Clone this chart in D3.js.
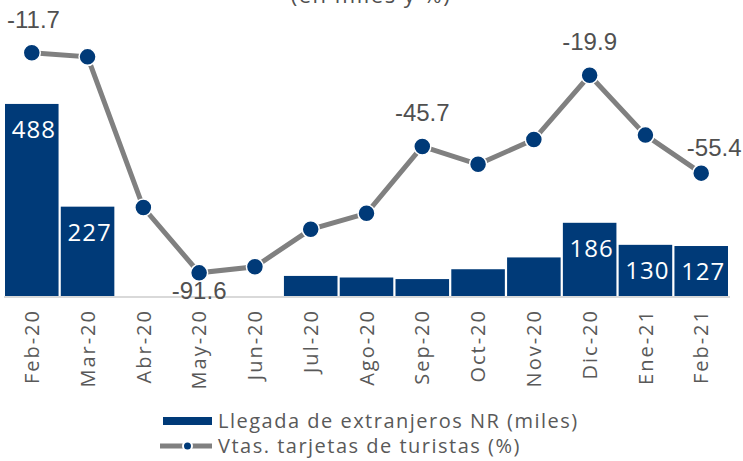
<!DOCTYPE html>
<html>
<head>
<meta charset="utf-8">
<script src="https://cdn.jsdelivr.net/npm/d3@7"></script>
<style>
  html, body { margin: 0; padding: 0; background: #fff; }
  svg { display: block; }
</style>
</head>
<body>
<svg id="chart" width="743" height="461"></svg>
<script>
const months = ['Feb-20', 'Mar-20', 'Abr-20', 'May-20', 'Jun-20', 'Jul-20', 'Ago-20',
  'Sep-20', 'Oct-20', 'Nov-20', 'Dic-20', 'Ene-21', 'Feb-21']
const llegadas = [488, 227, 0, 0, 0, 51, 47, 43, 68, 98, 186, 130, 127]
const ventas = [-11.7, -13.2, -67.9, -91.6, -89.4, -75.8, -70.0, -45.7, -52.2, -43.2, -19.9, -41.6, -55.4]
// which bars / points carry a value label
const barLabels = ['Feb-20', 'Mar-20', 'Dic-20', 'Ene-21', 'Feb-21']
const lineLabels = ['Feb-20', 'May-20', 'Sep-20', 'Dic-20', 'Feb-21']

const NAVY = '#003a78'
const GREY = '#808080'
const TXT = '#505050'
const FONT = '"Open Sans", "Noto Sans", sans-serif'

const svg = d3.select('#chart')
const baseY = 296, topY = 20.5

const x = d3.scaleBand().domain(months).range([5, 728]).paddingInner(0.04)
const yBar = d3.scaleLinear().domain([0, 700]).range([baseY, topY])
const yLine = d3.scaleLinear().domain([-100, 0]).range([baseY, topY])

// title, cut by the top edge
svg.append('text')
  .attr('x', 371).attr('y', 3)
  .attr('text-anchor', 'middle')
  .attr('font-family', FONT).attr('font-size', 22)
  .attr('letter-spacing', 1.5)
  .attr('fill', TXT)
  .text('(en miles y %)')

// bars
svg.append('g').selectAll('rect')
  .data(months)
  .join('rect')
  .attr('x', d => x(d))
  .attr('width', x.bandwidth())
  .attr('y', (d, i) => yBar(llegadas[i]))
  .attr('height', (d, i) => baseY - yBar(llegadas[i]))
  .attr('fill', NAVY)

// axis line + rotated labels
const xAxis = svg.append('g')
  .attr('transform', `translate(0,${baseY + 1})`)
  .call(d3.axisBottom(x).tickSize(0).tickPadding(0))
xAxis.select('.domain').attr('stroke', '#d9d9d9').attr('stroke-width', 2)
  .attr('d', 'M4,0H730')
xAxis.selectAll('text')
  .attr('font-family', FONT).attr('font-size', 20)
  .attr('letter-spacing', 2)
  .attr('fill', '#595959')
  .attr('text-anchor', 'end')
  .attr('transform', 'rotate(-90)')
  .attr('x', -12).attr('y', 0).attr('dy', '0.36em')

// bar value labels
svg.append('g').selectAll('text')
  .data(months.filter(m => barLabels.includes(m)))
  .join('text')
  .attr('x', d => x(d) + x.bandwidth() / 2 + 2)
  .attr('y', d => yBar(llegadas[months.indexOf(d)]) + 34)
  .attr('text-anchor', 'middle')
  .attr('font-family', FONT).attr('font-size', 24)
  .attr('letter-spacing', 1)
  .attr('fill', '#fff')
  .text(d => llegadas[months.indexOf(d)])

// line
const cx = d => x(d) + x.bandwidth() / 2
svg.append('path')
  .datum(months)
  .attr('fill', 'none')
  .attr('stroke', GREY)
  .attr('stroke-width', 5)
  .attr('d', d3.line().x(cx).y((d, i) => yLine(ventas[i])))

svg.append('g').selectAll('circle')
  .data(months)
  .join('circle')
  .attr('cx', cx)
  .attr('cy', (d, i) => yLine(ventas[i]))
  .attr('r', 8.5)
  .attr('fill', NAVY)
  .attr('stroke', '#fff').attr('stroke-width', 1.5)

// line value labels
svg.append('g').selectAll('text')
  .data(months.filter(m => lineLabels.includes(m)))
  .join('text')
  .attr('x', d => {
    if (d === 'Feb-20') return 7
    if (d === 'Feb-21') return cx(d) + 13
    return cx(d)
  })
  .attr('y', d => {
    const v = yLine(ventas[months.indexOf(d)])
    if (d === 'May-20') return v + 26
    if (d === 'Feb-21') return v - 17
    return v - 25
  })
  .attr('text-anchor', d => d === 'Feb-20' ? 'start' : 'middle')
  .attr('font-family', '"Liberation Sans Narrow", "Liberation Sans", sans-serif')
  .attr('font-size', 24)
  .attr('fill', TXT)
  .text(d => ventas[months.indexOf(d)].toFixed(1))

// legend
const lg = svg.append('g').attr('font-family', FONT).attr('font-size', 20)
  .attr('letter-spacing', 1.5).attr('fill', '#595959')
lg.append('rect').attr('x', 163).attr('y', 417).attr('width', 49).attr('height', 8).attr('fill', NAVY)
lg.append('text').attr('x', 218).attr('y', 428).text('Llegada de extranjeros NR (miles)')
lg.append('line').attr('x1', 160).attr('x2', 212).attr('y1', 446).attr('y2', 446)
  .attr('stroke', GREY).attr('stroke-width', 5)
lg.append('circle').attr('cx', 187.5).attr('cy', 446).attr('r', 4.5)
  .attr('fill', NAVY).attr('stroke', '#fff').attr('stroke-width', 2)
lg.append('text').attr('x', 218).attr('y', 453).text('Vtas. tarjetas de turistas (%)')
</script>
</body>
</html>
